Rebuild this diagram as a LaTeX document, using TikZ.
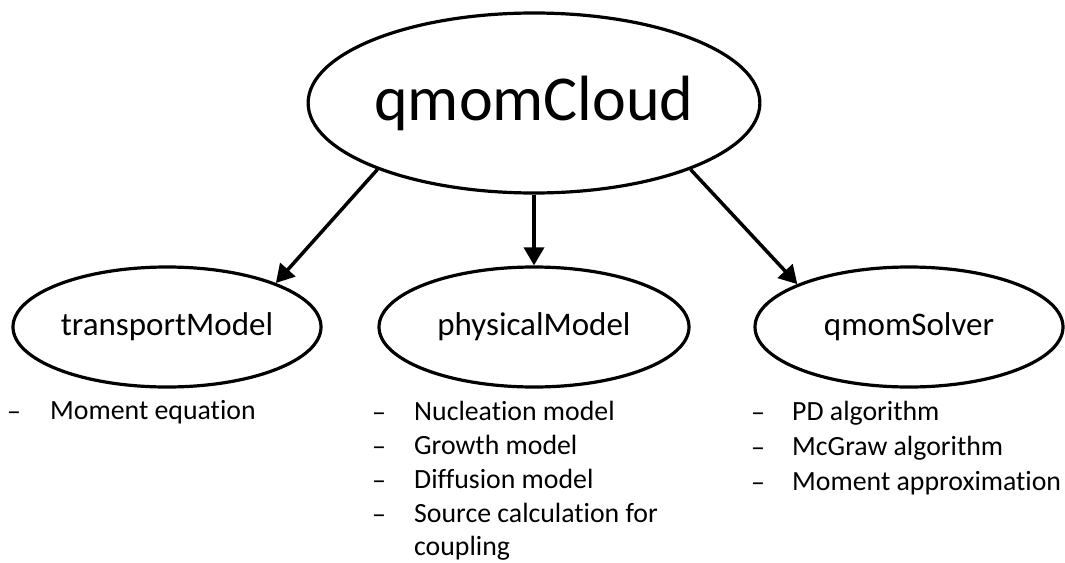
\documentclass[tikz,border=0pt]{standalone}
\usepackage{fontspec}
\setmainfont[Ligatures=NoCommon]{Carlito}
\usetikzlibrary{shapes.geometric,arrows.meta}
\begin{document}
\begin{tikzpicture}[x=1pt,y=-1pt,
  oval/.style={draw=black,line width=3.2pt,ellipse,inner sep=0pt},
  conn/.style={line width=3.5pt,-{Triangle[length=18pt,width=20pt]}},
  item/.style={anchor=base west,inner sep=0pt,font=\fontsize{27.8}{32}\selectfont},
  dashmark/.style={anchor=base west,inner sep=0pt,font=\fontsize{27.8}{32}\selectfont}]
\useasboundingbox (0,0) rectangle (1065,562);
\node[oval,minimum width=448pt,minimum height=180pt,font=\fontsize{64}{70}\selectfont] (top) at (534,103) {qmomCloud};
\node[oval,minimum width=308pt,minimum height=120pt,font=\fontsize{33}{38}\selectfont] (tm) at (167,327) {transportModel};
\node[oval,minimum width=310pt,minimum height=120pt,font=\fontsize{33}{38}\selectfont] (pm) at (534,327) {physicalModel};
\node[oval,minimum width=308pt,minimum height=120pt,font=\fontsize{33}{38}\selectfont] (qs) at (909,327) {qmomSolver};
\draw[conn] (top.203) -- (tm.22);
\draw[conn] (top.south) -- (pm.north);
\draw[conn] (top.-23) -- (qs.159);
% left list
\node[dashmark] (d1) at (7,420) {–};
\node[item] (t1) at (50,419) {Moment equation};
% middle list
\node[dashmark] (d2) at (372,421) {–};
\node[item] (t2) at (414,420) {Nucleation model};
\node[dashmark] (d3) at (372,455) {–};
\node[item] (t3) at (414,454) {Growth model};
\node[dashmark] (d4) at (372,489) {–};
\node[item] (t4) at (414,488) {Diffusion model};
\node[dashmark] (d5) at (372,523) {–};
\node[item] (t5) at (414,522) {Source calculation for};
\node[item] (t6) at (414,555) {coupling};
% right list
\node[dashmark] (d6) at (751,421) {–};
\node[item] (t7) at (792,420) {PD algorithm};
\node[dashmark] (d7) at (751,456) {–};
\node[item] (t8) at (792,455) {McGraw algorithm};
\node[dashmark] (d8) at (751,491) {–};
\node[item] (t9) at (792,490) {Moment approximation};
\end{tikzpicture}
\end{document}
